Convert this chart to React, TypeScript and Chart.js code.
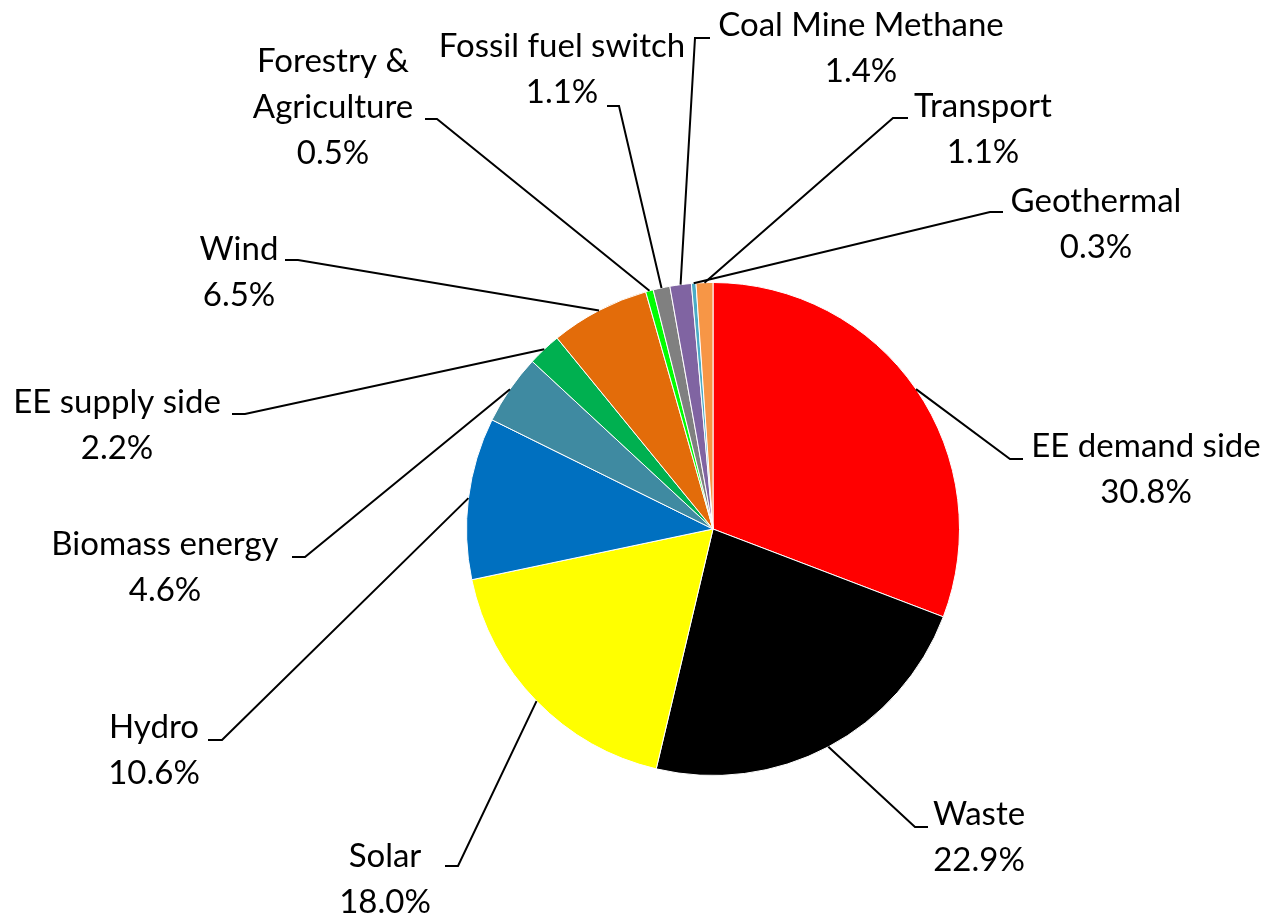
import { useEffect, useRef } from "react";
import { Chart, registerables } from "chart.js";

Chart.register(...registerables);

// ---- data ----
const categories = [
  "EE demand side",
  "Waste",
  "Solar",
  "Hydro",
  "Biomass energy",
  "EE supply side",
  "Wind",
  "Forestry & Agriculture",
  "Fossil fuel switch",
  "Coal Mine Methane",
  "Geothermal",
  "Transport",
];
const shares = [30.8, 22.9, 18.0, 10.6, 4.6, 2.2, 6.5, 0.5, 1.1, 1.4, 0.3, 1.1];
const labelText = [
  ["EE demand side"],
  ["Waste"],
  ["Solar"],
  ["Hydro"],
  ["Biomass energy"],
  ["EE supply side"],
  ["Wind"],
  ["Forestry &", "Agriculture"],
  ["Fossil fuel switch"],
  ["Coal Mine Methane"],
  ["Geothermal"],
  ["Transport"],
];

// ---- styles / layout ----
const sliceColors = [
  "#FF0000",
  "#000000",
  "#FFFF00",
  "#0070C0",
  "#3F8AA1",
  "#00B050",
  "#E36C0A",
  "#00FF00",
  "#808080",
  "#8064A2",
  "#4BACC6",
  "#F79646",
];

// label placement relative to pie centre (px): text centre x, first baseline y,
// leader elbow (bx, by) and end of short horizontal tick hx
const labelLayout = [
  { tx: 433, ty: -72, bx: 297, by: -70, hx: 310 },
  { tx: 266, ty: 296, bx: 202, by: 298, hx: 215 },
  { tx: -328, ty: 338, bx: -255, by: 337, hx: -268 },
  { tx: -559, ty: 209, bx: -491, by: 211, hx: -505 },
  { tx: -548, ty: 26, bx: -408, by: 28, hx: -421 },
  { tx: -596, ty: -116, bx: -468, by: -115, hx: -481 },
  { tx: -474, ty: -269, bx: -415, by: -269, hx: -428 },
  { tx: -380, ty: -457, bx: -276, by: -410, hx: -288 },
  { tx: -151, ty: -472, bx: -94, by: -423, hx: -106 },
  { tx: 148, ty: -493, bx: -18, by: -491, hx: -3 },
  { tx: 383, ty: -317, bx: 277, by: -317, hx: 290 },
  { tx: 270, ty: -412, bx: 180, by: -411, hx: 195 },
];

const FONT = '33px Lato, "Noto Sans", sans-serif';
const LINE_H = 46;

const labelPlugin = {
  id: "pieLabels",
  afterDraw(chart: any) {
    const ctx = chart.ctx;
    const meta = chart.getDatasetMeta(0);
    const data = chart.data.datasets[0].data as number[];
    const total = data.reduce((a, b) => a + b, 0);
    ctx.save();
    meta.data.forEach((arc: any, i: number) => {
      const { x, y, startAngle, endAngle, outerRadius } = arc.getProps(
        ["x", "y", "startAngle", "endAngle", "outerRadius"],
        true
      );
      const mid = (startAngle + endAngle) / 2;
      const sx = x + Math.cos(mid) * outerRadius;
      const sy = y + Math.sin(mid) * outerRadius;
      const L = labelLayout[i];
      ctx.beginPath();
      ctx.strokeStyle = "#000";
      ctx.lineWidth = 2;
      ctx.moveTo(sx, sy);
      ctx.lineTo(x + L.bx, y + L.by);
      ctx.lineTo(x + L.hx, y + L.by);
      ctx.stroke();

      const lines = [...labelText[i], ((data[i] / total) * 100).toFixed(1) + "%"];
      ctx.fillStyle = "#000";
      ctx.font = FONT;
      ctx.textAlign = "center";
      ctx.textBaseline = "alphabetic";
      lines.forEach((t, k) => {
        ctx.fillText(t, x + L.tx, y + L.ty + k * LINE_H);
      });
    });
    ctx.restore();
  },
};

export default function App() {
  const ref = useRef<HTMLCanvasElement | null>(null);
  useEffect(() => {
    if (!ref.current) return;
    const chart = new Chart(ref.current, {
      type: "pie",
      data: {
        labels: categories,
        datasets: [
          {
            data: shares,
            backgroundColor: sliceColors,
            borderColor: "#FFFFFF",
            borderWidth: 1,
          },
        ],
      },
      options: {
        animation: false,
        responsive: true,
        maintainAspectRatio: false,
        layout: { padding: { left: 466, right: 308, top: 282, bottom: 144 } },
        plugins: {
          legend: { display: false },
          tooltip: { enabled: false },
        },
      },
      plugins: [labelPlugin],
    });
    return () => chart.destroy();
  }, []);
  return (
    <div
      style={{
        position: "fixed",
        left: 0,
        top: 0,
        width: 1268,
        height: 920,
        background: "#fff",
      }}
    >
      <canvas ref={ref} />
    </div>
  );
}
